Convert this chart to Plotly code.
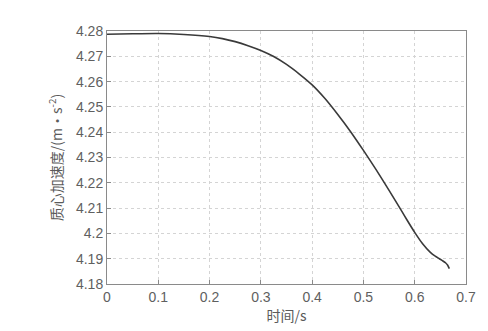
import plotly.graph_objects as go

time_s = [0, 0.05, 0.1, 0.15, 0.2, 0.225, 0.25, 0.275, 0.3, 0.325, 0.35, 0.375,
          0.4, 0.425, 0.45, 0.475, 0.5, 0.525, 0.55, 0.575, 0.585, 0.6, 0.615,
          0.63, 0.64, 0.648, 0.655, 0.66, 0.664, 0.6675]
accel = [4.2787, 4.2789, 4.2790, 4.2786, 4.2778, 4.2770, 4.2758, 4.2742, 4.2723,
         4.2699, 4.2668, 4.2630, 4.2587, 4.2533, 4.2470, 4.2402, 4.2328, 4.2251,
         4.2170, 4.2087, 4.2053, 4.2004, 4.1960, 4.1926, 4.1910, 4.1900, 4.1891,
         4.1884, 4.1875, 4.1861]

x_ticks = [0, 0.1, 0.2, 0.3, 0.4, 0.5, 0.6, 0.7]
x_labels = ["0", "0.1", "0.2", "0.3", "0.4", "0.5", "0.6", "0.7"]
y_ticks = [4.18, 4.19, 4.20, 4.21, 4.22, 4.23, 4.24, 4.25, 4.26, 4.27, 4.28]
y_labels = ["4.18", "4.19", "4.2", "4.21", "4.22", "4.23", "4.24", "4.25", "4.26", "4.27", "4.28"]

FONT = "Liberation Sans, Arial, Noto Sans CJK SC, sans-serif"

fig = go.Figure()
fig.add_trace(go.Scatter(x=time_s, y=accel, mode="lines",
                         line=dict(color="#3a3a3a", width=1.6, shape="spline", smoothing=0.6),
                         showlegend=False, hoverinfo="skip"))

axis_common = dict(
    showline=True, linecolor="#8a8a8a", linewidth=1, mirror=True,
    ticks="inside", ticklen=4, tickcolor="#8a8a8a",
    showgrid=True, gridcolor="#d4d4d4", griddash="dot", gridwidth=1,
    zeroline=False, tickfont=dict(family=FONT, size=14, color="#5f5f5f"),
)

fig.update_xaxes(range=[0, 0.7], tickvals=x_ticks, ticktext=x_labels,
                 title=dict(text="时间/s", font=dict(family="Noto Sans CJK SC", size=14, color="#5a5a5a"), standoff=4),
                 **axis_common)
fig.update_yaxes(range=[4.18, 4.28], tickvals=y_ticks, ticktext=y_labels,
                 title=dict(text="质心加速度/(m・s<sup>-2</sup>)", font=dict(family="Noto Sans CJK SC", size=14, color="#5a5a5a"), standoff=10),
                 **axis_common)

fig.update_layout(width=488, height=331, margin=dict(l=107, r=22, t=31, b=42),
                  paper_bgcolor="white", plot_bgcolor="white", font=dict(family=FONT))

fig.write_html("out.html")
